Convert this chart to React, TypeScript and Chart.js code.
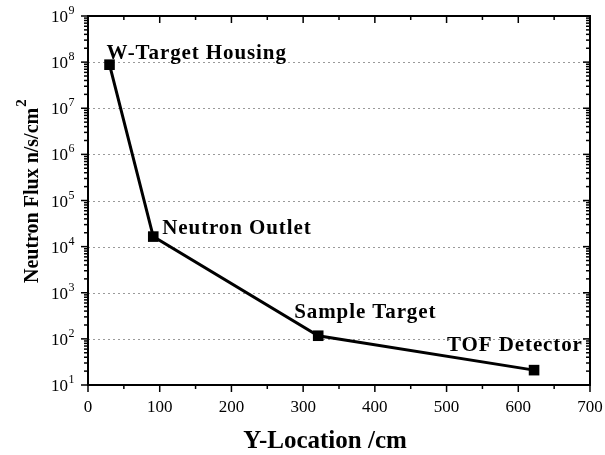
import { useEffect, useRef } from 'react';
import { Chart, registerables } from 'chart.js';

Chart.register(...registerables);

// ---- data ----
const locations = [30, 91, 321, 622];
const flux = [8.8e7, 1.65e4, 117, 21];
const pointLabels = ['W-Target Housing', 'Neutron Outlet', 'Sample Target', 'TOF Detector'];
const xTickValues = [0, 100, 200, 300, 400, 500, 600, 700];
const xMinorValues = [50, 150, 250, 350, 450, 550, 650];
const yExponents = [1, 2, 3, 4, 5, 6, 7, 8, 9];
const yTickBase = '10';
const xTitle = 'Y-Location /cm';
const yTitle = 'Neutron Flux n/s/cm';
const yTitleSup = '2';

// ---- styles ----
const SERIF = '"Liberation Serif", "Times New Roman", serif';
const labelOffsets = [
  [-3, -6],
  [9, -3],
  [-24, -18],
  [-87, -19],
];

const decorPlugin = {
  id: 'decor',
  beforeDatasetsDraw(chart: any) {
    const { ctx, chartArea } = chart;
    const y = chart.scales.y;
    ctx.save();
    ctx.strokeStyle = '#9a9a9a';
    ctx.lineWidth = 1;
    ctx.setLineDash([2, 3]);
    yExponents.forEach((e) => {
      const v = Math.pow(10, e);
      if (e === yExponents[0] || e === yExponents[yExponents.length - 1]) return;
      const py = Math.round(y.getPixelForValue(v)) + 0.5;
      ctx.beginPath();
      ctx.moveTo(chartArea.left, py);
      ctx.lineTo(chartArea.right, py);
      ctx.stroke();
    });
    ctx.restore();
  },
  afterDatasetsDraw(chart: any) {
    const { ctx, chartArea } = chart;
    const xs = chart.scales.x;
    const ys = chart.scales.y;
    const { left, right, top, bottom } = chartArea;
    ctx.save();
    ctx.strokeStyle = '#000';
    ctx.fillStyle = '#000';
    ctx.setLineDash([]);
    ctx.lineWidth = 1.5;
    const line = (x1: number, y1: number, x2: number, y2: number) => {
      ctx.beginPath();
      ctx.moveTo(x1, y1);
      ctx.lineTo(x2, y2);
      ctx.stroke();
    };
    xTickValues.forEach((v) => {
      const px = xs.getPixelForValue(v);
      line(px, bottom, px, bottom + 7);
      line(px, top, px, top + 7);
    });
    xMinorValues.forEach((v) => {
      const px = xs.getPixelForValue(v);
      line(px, bottom, px, bottom + 4);
      line(px, top, px, top + 4);
    });
    yExponents.forEach((e, i) => {
      const base = Math.pow(10, e);
      const py = ys.getPixelForValue(base);
      line(left - 7, py, left, py);
      line(right - 7, py, right, py);
      if (i < yExponents.length - 1) {
        for (let m = 2; m <= 9; m++) {
          const pm = ys.getPixelForValue(base * m);
          line(left - 4, pm, left, pm);
          line(right - 4, pm, right, pm);
        }
      }
      // y tick label: 10 with superscript exponent
      ctx.textBaseline = 'alphabetic';
      ctx.textAlign = 'right';
      ctx.font = `17px ${SERIF}`;
      ctx.fillText(yTickBase, left - 20, py + 6);
      ctx.textAlign = 'left';
      ctx.font = `12px ${SERIF}`;
      ctx.fillText(String(e), left - 19.5, py - 2);
    });
    ctx.lineWidth = 2;
    ctx.strokeRect(left, top, right - left, bottom - top);

    // point labels
    const meta = chart.getDatasetMeta(0);
    ctx.font = `bold 21px ${SERIF}`;
    (ctx as any).letterSpacing = '0.9px';
    ctx.textAlign = 'left';
    ctx.textBaseline = 'alphabetic';
    meta.data.forEach((pt: any, i: number) => {
      const [dx, dy] = labelOffsets[i];
      ctx.fillText(pointLabels[i], pt.x + dx, pt.y + dy);
    });
    (ctx as any).letterSpacing = '0px';

    // axis titles
    ctx.font = `bold 25px ${SERIF}`;
    ctx.textAlign = 'center';
    ctx.fillText(xTitle, 325, 448);

    ctx.translate(38, 283);
    ctx.rotate(-Math.PI / 2);
    ctx.textAlign = 'left';
    ctx.font = `bold 20px ${SERIF}`;
    ctx.fillText(yTitle, 0, 0);
    const w = ctx.measureText(yTitle).width;
    ctx.font = `bold 15px ${SERIF}`;
    ctx.fillText(yTitleSup, w + 1, -12);
    ctx.restore();
  },
};

export default function App() {
  const ref = useRef<HTMLCanvasElement>(null);
  useEffect(() => {
    if (!ref.current) return;
    const chart = new Chart(ref.current, {
      type: 'line',
      data: {
        datasets: [
          {
            data: locations.map((x, i) => ({ x, y: flux[i] })),
            borderColor: '#000',
            backgroundColor: '#000',
            borderWidth: 3,
            pointStyle: 'rect',
            pointRadius: 7.5,
            pointBorderWidth: 0,
            pointBackgroundColor: '#000',
            tension: 0,
          },
        ],
      },
      options: {
        responsive: false,
        animation: false,
        layout: { padding: { top: 16, right: 15, left: 0, bottom: 0 } },
        plugins: { legend: { display: false }, tooltip: { enabled: false } },
        scales: {
          x: {
            type: 'linear',
            min: 0,
            max: 700,
            afterBuildTicks: (s: any) => {
              s.ticks = xTickValues.map((v) => ({ value: v }));
            },
            afterFit: (s: any) => {
              s.height = 70;
              s.paddingLeft = 0;
              s.paddingRight = 0;
            },
            grid: { display: false },
            border: { display: false },
            ticks: {
              color: '#000',
              padding: 4,
              maxRotation: 0,
              font: { family: SERIF, size: 17 },
            },
          },
          y: {
            type: 'logarithmic',
            min: 10,
            max: 1e9,
            afterBuildTicks: (s: any) => {
              s.ticks = yExponents.map((e) => ({ value: Math.pow(10, e) }));
            },
            afterFit: (s: any) => {
              s.width = 88;
              s.paddingTop = 0;
              s.paddingBottom = 0;
            },
            grid: { display: false },
            border: { display: false },
            ticks: { display: false },
          },
        },
      },
      plugins: [decorPlugin],
    });
    return () => chart.destroy();
  }, []);
  return (
    <div style={{ position: 'absolute', left: 0, top: 0, width: 605, height: 455, background: '#fff' }}>
      <canvas ref={ref} width={605} height={455} style={{ display: 'block' }} />
    </div>
  );
}
